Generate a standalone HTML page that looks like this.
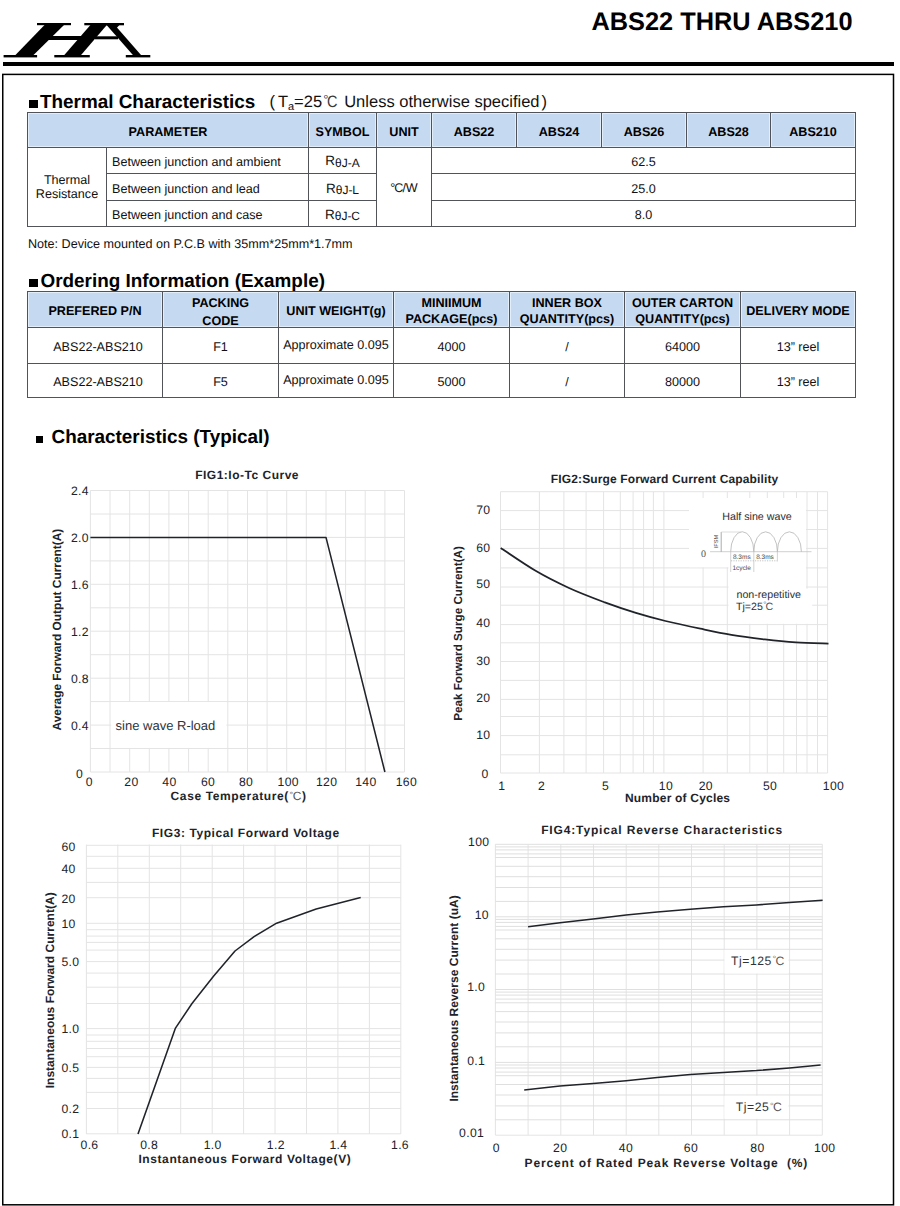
<!DOCTYPE html>
<html><head><meta charset="utf-8">
<style>
*{box-sizing:border-box;margin:0;padding:0}
html,body{width:900px;height:1206px;background:#fff;overflow:hidden}
body{position:relative;font-family:"Liberation Sans",sans-serif;color:#111;text-rendering:geometricPrecision}
.abs{position:absolute;white-space:nowrap}
#title{left:591.5px;top:8px;font-size:25.35px;font-weight:bold;line-height:28px;color:#000}
#bar{left:2.7px;top:62px;width:891px;height:4px;background:#000}
.h1{font-weight:bold;font-size:18.9px;line-height:22px;color:#000}
.sub{font-size:16.5px;line-height:20px;color:#111}
.gap{display:inline-block}
.dcw{display:inline-block;width:17.5px;white-space:nowrap}
.dg{font-size:13px;position:relative;top:-2.7px;left:1.2px;color:#444}
.dC{font-size:16.5px;margin-left:-0.5px;color:#3a3a3a;display:inline-block;transform:scaleX(0.88);transform-origin:left}
.subs{font-size:11px;position:relative;top:3px}
.sq{display:inline-block;background:#000}
.note{font-size:12.6px;line-height:16px}
.c{position:absolute;border:1px solid #50545a;display:flex;align-items:center;justify-content:center;text-align:center;font-size:12.6px;line-height:15px;white-space:nowrap;color:#111;padding-top:3px}
.c.h{background:#c5d9f1;font-weight:bold;color:#000;box-shadow:inset 0 0 0 1px #e2effa}
.c.l{justify-content:flex-start;padding-left:5px}
.c.h{padding-top:4.5px}
.c.ml{line-height:15.5px}
.c.tr{line-height:14px;padding-top:0}
.c.r2{padding-top:5.5px}
.c.r3{padding-top:4.5px}
.c.pk{line-height:17.5px;padding-top:6px}
.c.up{padding-top:0}
.c.sr{padding-left:6px}
.rr{font-size:13.5px;position:relative;top:-1px}
.th{font-size:12px;position:relative;top:0.5px}
.dc,.dc2,.dc3{letter-spacing:-1px}
svg text{font-family:"Liberation Sans",sans-serif;text-rendering:geometricPrecision}
</style></head><body>
<svg class="abs" style="left:0;top:0" width="160" height="70" viewBox="0 0 160 70"><g fill="#000">
<rect x="37" y="23" width="34" height="2.2"/>
<polygon points="45.5,24 65,24 32,56.5 14,56.5"/>
<rect x="3.6" y="55" width="33.5" height="2.4"/>
<rect x="45" y="36" width="40" height="4"/>
<rect x="84.3" y="23" width="39.7" height="2.3"/>
<polygon points="91.3,24 107.7,24 79.8,56.5 63,56.5"/>
<rect x="54.3" y="55" width="35.5" height="2.4"/>
<rect x="95" y="36.3" width="23" height="3"/>
<polygon points="105.7,24 113.9,24 142.3,56.5 134.2,56.5"/>
<polygon points="112,25 119.4,25 116.4,28.2"/>
<rect x="125.8" y="55" width="24.5" height="2.4"/>
</g></svg>
<div class="abs" id="title">ABS22 THRU ABS210</div>
<div class="abs" id="bar"></div>
<svg class="abs" style="left:0;top:0" width="900" height="1206"><rect x="2.75" y="74.4" width="890.75" height="1130.4" fill="none" stroke="#000" stroke-width="1.5"/></svg>
<div class="abs h1" style="left:28.8px;top:91.9px"><i class="sq" style="width:9.2px;height:8px;margin-right:2px"></i>Thermal Characteristics</div>
<div class="abs sub" style="left:269.5px;top:92px">(<span class="gap" style="width:2.9px"></span>T<span class="subs">a</span>=25<span class="dcw"><span class="dg">&deg;</span><span class="dC">C</span></span> Unless otherwise specified<span class="gap" style="width:2px"></span>)</div>
<div class="c h" style="left:27px;top:112px;width:282px;height:36px"><span>PARAMETER</span></div>
<div class="c h" style="left:308px;top:112px;width:69px;height:36px"><span>SYMBOL</span></div>
<div class="c h" style="left:376px;top:112px;width:56px;height:36px"><span>UNIT</span></div>
<div class="c h" style="left:431px;top:112px;width:86px;height:36px"><span>ABS22</span></div>
<div class="c h" style="left:516px;top:112px;width:86px;height:36px"><span>ABS24</span></div>
<div class="c h" style="left:601px;top:112px;width:86px;height:36px"><span>ABS26</span></div>
<div class="c h" style="left:686px;top:112px;width:85px;height:36px"><span>ABS28</span></div>
<div class="c h" style="left:770px;top:112px;width:86px;height:36px"><span>ABS210</span></div>
<div class="c tr" style="left:27px;top:147px;width:80px;height:80px"><span>Thermal<br>Resistance</span></div>
<div class="c l " style="left:106px;top:147px;width:203px;height:27px"><span>Between junction and ambient</span></div>
<div class="c " style="left:308px;top:147px;width:69px;height:27px"><span><span class="rr">R</span><span class="th">&theta;J-A</span></span></div>
<div class="c " style="left:431px;top:147px;width:425px;height:27px"><span>62.5</span></div>
<div class="c l r2" style="left:106px;top:173px;width:203px;height:28px"><span>Between junction and lead</span></div>
<div class="c r2" style="left:308px;top:173px;width:69px;height:28px"><span><span class="rr">R</span><span class="th">&theta;J-L</span></span></div>
<div class="c r2" style="left:431px;top:173px;width:425px;height:28px"><span>25.0</span></div>
<div class="c l r3" style="left:106px;top:200px;width:203px;height:27px"><span>Between junction and case</span></div>
<div class="c r3" style="left:308px;top:200px;width:69px;height:27px"><span><span class="rr">R</span><span class="th">&theta;J-C</span></span></div>
<div class="c r3" style="left:431px;top:200px;width:425px;height:27px"><span>8.0</span></div>
<div class="c " style="left:376px;top:147px;width:56px;height:80px"><span><span class="dc3">&deg;C</span>/W</span></div>
<div class="abs note" style="left:28px;top:236px">Note: Device mounted on P.C.B with 35mm*25mm*1.7mm</div>
<div class="abs h1" style="left:29.3px;top:270.7px"><i class="sq" style="width:8.6px;height:7.8px;margin-right:2.6px"></i>Ordering Information (Example)</div>
<div class="c h ml" style="left:27px;top:291px;width:136px;height:37px"><span>PREFERED P/N</span></div>
<div class="c h pk" style="left:162px;top:291px;width:117px;height:37px"><span>PACKING<br>CODE</span></div>
<div class="c h ml" style="left:278px;top:291px;width:116px;height:37px"><span>UNIT WEIGHT(g)</span></div>
<div class="c h ml" style="left:393px;top:291px;width:117px;height:37px"><span>MINIIMUM<br>PACKAGE(pcs)</span></div>
<div class="c h ml" style="left:509px;top:291px;width:116px;height:37px"><span>INNER BOX<br>QUANTITY(pcs)</span></div>
<div class="c h ml" style="left:624px;top:291px;width:117px;height:37px"><span>OUTER CARTON<br>QUANTITY(pcs)</span></div>
<div class="c h ml" style="left:740px;top:291px;width:116px;height:37px"><span>DELIVERY MODE</span></div>
<div class="c sr" style="left:27px;top:327px;width:136px;height:37px"><span>ABS22-ABS210</span></div>
<div class="c " style="left:162px;top:327px;width:117px;height:37px"><span>F1</span></div>
<div class="c up" style="left:278px;top:327px;width:116px;height:37px"><span>Approximate 0.095</span></div>
<div class="c " style="left:393px;top:327px;width:117px;height:37px"><span>4000</span></div>
<div class="c " style="left:509px;top:327px;width:116px;height:37px"><span>/</span></div>
<div class="c " style="left:624px;top:327px;width:117px;height:37px"><span>64000</span></div>
<div class="c " style="left:740px;top:327px;width:116px;height:37px"><span>13&rdquo; reel</span></div>
<div class="c sr" style="left:27px;top:363px;width:136px;height:35px"><span>ABS22-ABS210</span></div>
<div class="c " style="left:162px;top:363px;width:117px;height:35px"><span>F5</span></div>
<div class="c up" style="left:278px;top:363px;width:116px;height:35px"><span>Approximate 0.095</span></div>
<div class="c " style="left:393px;top:363px;width:117px;height:35px"><span>5000</span></div>
<div class="c " style="left:509px;top:363px;width:116px;height:35px"><span>/</span></div>
<div class="c " style="left:624px;top:363px;width:117px;height:35px"><span>80000</span></div>
<div class="c " style="left:740px;top:363px;width:116px;height:35px"><span>13&rdquo; reel</span></div>
<div class="abs h1" style="left:35.8px;top:427.3px"><i class="sq" style="width:7.7px;height:7.7px;margin-right:8px"></i>Characteristics (Typical)</div>
<svg class="abs" style="left:0;top:0" width="900" height="1206" viewBox="0 0 900 1206">
<line x1="90.4" y1="490.5" x2="90.4" y2="772.0" stroke="#e4e4e4" stroke-width="1"/>
<line x1="110.0" y1="490.5" x2="110.0" y2="772.0" stroke="#e4e4e4" stroke-width="1"/>
<line x1="129.7" y1="490.5" x2="129.7" y2="772.0" stroke="#e4e4e4" stroke-width="1"/>
<line x1="149.3" y1="490.5" x2="149.3" y2="772.0" stroke="#e4e4e4" stroke-width="1"/>
<line x1="168.9" y1="490.5" x2="168.9" y2="772.0" stroke="#e4e4e4" stroke-width="1"/>
<line x1="188.6" y1="490.5" x2="188.6" y2="772.0" stroke="#e4e4e4" stroke-width="1"/>
<line x1="208.2" y1="490.5" x2="208.2" y2="772.0" stroke="#e4e4e4" stroke-width="1"/>
<line x1="227.8" y1="490.5" x2="227.8" y2="772.0" stroke="#e4e4e4" stroke-width="1"/>
<line x1="247.5" y1="490.5" x2="247.5" y2="772.0" stroke="#e4e4e4" stroke-width="1"/>
<line x1="267.1" y1="490.5" x2="267.1" y2="772.0" stroke="#e4e4e4" stroke-width="1"/>
<line x1="286.7" y1="490.5" x2="286.7" y2="772.0" stroke="#e4e4e4" stroke-width="1"/>
<line x1="306.3" y1="490.5" x2="306.3" y2="772.0" stroke="#e4e4e4" stroke-width="1"/>
<line x1="326.0" y1="490.5" x2="326.0" y2="772.0" stroke="#e4e4e4" stroke-width="1"/>
<line x1="345.6" y1="490.5" x2="345.6" y2="772.0" stroke="#e4e4e4" stroke-width="1"/>
<line x1="365.2" y1="490.5" x2="365.2" y2="772.0" stroke="#e4e4e4" stroke-width="1"/>
<line x1="384.9" y1="490.5" x2="384.9" y2="772.0" stroke="#e4e4e4" stroke-width="1"/>
<line x1="404.5" y1="490.5" x2="404.5" y2="772.0" stroke="#e4e4e4" stroke-width="1"/>
<line x1="90.4" y1="490.5" x2="404.5" y2="490.5" stroke="#e4e4e4" stroke-width="1"/>
<line x1="90.4" y1="514.0" x2="404.5" y2="514.0" stroke="#e4e4e4" stroke-width="1"/>
<line x1="90.4" y1="537.4" x2="404.5" y2="537.4" stroke="#e4e4e4" stroke-width="1"/>
<line x1="90.4" y1="560.9" x2="404.5" y2="560.9" stroke="#e4e4e4" stroke-width="1"/>
<line x1="90.4" y1="584.3" x2="404.5" y2="584.3" stroke="#e4e4e4" stroke-width="1"/>
<line x1="90.4" y1="607.8" x2="404.5" y2="607.8" stroke="#e4e4e4" stroke-width="1"/>
<line x1="90.4" y1="631.2" x2="404.5" y2="631.2" stroke="#e4e4e4" stroke-width="1"/>
<line x1="90.4" y1="654.7" x2="404.5" y2="654.7" stroke="#e4e4e4" stroke-width="1"/>
<line x1="90.4" y1="678.2" x2="404.5" y2="678.2" stroke="#e4e4e4" stroke-width="1"/>
<line x1="90.4" y1="701.6" x2="404.5" y2="701.6" stroke="#e4e4e4" stroke-width="1"/>
<line x1="90.4" y1="725.1" x2="404.5" y2="725.1" stroke="#e4e4e4" stroke-width="1"/>
<line x1="90.4" y1="748.5" x2="404.5" y2="748.5" stroke="#e4e4e4" stroke-width="1"/>
<line x1="90.4" y1="772.0" x2="404.5" y2="772.0" stroke="#e4e4e4" stroke-width="1"/>
<text x="247.1" y="479.3" font-size="12" text-anchor="middle" font-weight="bold" letter-spacing="0.5" fill="#20242a">FIG1:Io-Tc Curve</text>
<text x="88.9" y="495.4" font-size="12.2" text-anchor="end" letter-spacing="0.35" fill="#20242a">2.4</text>
<text x="88.9" y="542.3" font-size="12.2" text-anchor="end" letter-spacing="0.35" fill="#20242a">2.0</text>
<text x="88.9" y="589.2" font-size="12.2" text-anchor="end" letter-spacing="0.35" fill="#20242a">1.6</text>
<text x="88.9" y="636.1" font-size="12.2" text-anchor="end" letter-spacing="0.35" fill="#20242a">1.2</text>
<text x="88.9" y="683.0" font-size="12.2" text-anchor="end" letter-spacing="0.35" fill="#20242a">0.8</text>
<text x="88.9" y="730.0" font-size="12.2" text-anchor="end" letter-spacing="0.35" fill="#20242a">0.4</text>
<text x="83.1" y="778.0" font-size="12.2" text-anchor="end" letter-spacing="0.35" fill="#20242a">0</text>
<text x="89.4" y="785.8" font-size="12.2" text-anchor="middle" letter-spacing="0.35" fill="#20242a">0</text>
<text x="131.5" y="785.8" font-size="12.2" text-anchor="middle" letter-spacing="0.35" fill="#20242a">20</text>
<text x="169.5" y="785.8" font-size="12.2" text-anchor="middle" letter-spacing="0.35" fill="#20242a">40</text>
<text x="208.1" y="785.8" font-size="12.2" text-anchor="middle" letter-spacing="0.35" fill="#20242a">60</text>
<text x="246.1" y="785.8" font-size="12.2" text-anchor="middle" letter-spacing="0.35" fill="#20242a">80</text>
<text x="288.2" y="785.8" font-size="12.2" text-anchor="middle" letter-spacing="0.35" fill="#20242a">100</text>
<text x="326.6" y="785.8" font-size="12.2" text-anchor="middle" letter-spacing="0.35" fill="#20242a">120</text>
<text x="365.9" y="785.8" font-size="12.2" text-anchor="middle" letter-spacing="0.35" fill="#20242a">140</text>
<text x="406.4" y="785.8" font-size="12.2" text-anchor="middle" letter-spacing="0.35" fill="#20242a">160</text>
<text transform="translate(60.7 629.6) rotate(-90)" font-size="11.9" text-anchor="middle" font-weight="bold" fill="#20242a">Average Forward Output Current(A)</text>
<text x="238.6" y="800.3" font-size="12" text-anchor="middle" font-weight="bold" letter-spacing="0.62" fill="#20242a">Case Temperature(<tspan font-size="0.75em" dy="-0.27em" dx="0.5" font-weight="normal" fill="#666">&deg;</tspan><tspan dy="0.2025em" dx="-1" font-weight="normal" fill="#555">C</tspan>)</text>
<rect x="111.2" y="702" width="115.2" height="45.9" fill="#fff"/>
<text x="115.6" y="729.7" font-size="13" text-anchor="start" fill="#30343a">sine wave R-load</text>
<polyline points="90.4,537.4 326.0,537.4 384.9,772.0" fill="none" stroke="#20242a" stroke-width="1.55" stroke-linejoin="round"/>
<line x1="500.5" y1="491.7" x2="500.5" y2="773.0" stroke="#e4e4e4" stroke-width="1"/>
<line x1="539.4" y1="491.7" x2="539.4" y2="773.0" stroke="#e4e4e4" stroke-width="1"/>
<line x1="563.9" y1="491.7" x2="563.9" y2="773.0" stroke="#e4e4e4" stroke-width="1"/>
<line x1="586.1" y1="491.7" x2="586.1" y2="773.0" stroke="#e4e4e4" stroke-width="1"/>
<line x1="603.6" y1="491.7" x2="603.6" y2="773.0" stroke="#e4e4e4" stroke-width="1"/>
<line x1="620.3" y1="491.7" x2="620.3" y2="773.0" stroke="#e4e4e4" stroke-width="1"/>
<line x1="633.1" y1="491.7" x2="633.1" y2="773.0" stroke="#e4e4e4" stroke-width="1"/>
<line x1="643.6" y1="491.7" x2="643.6" y2="773.0" stroke="#e4e4e4" stroke-width="1"/>
<line x1="653.4" y1="491.7" x2="653.4" y2="773.0" stroke="#e4e4e4" stroke-width="1"/>
<line x1="663.9" y1="491.7" x2="663.9" y2="773.0" stroke="#e4e4e4" stroke-width="1"/>
<line x1="703.1" y1="491.7" x2="703.1" y2="773.0" stroke="#e4e4e4" stroke-width="1"/>
<line x1="727.3" y1="491.7" x2="727.3" y2="773.0" stroke="#e4e4e4" stroke-width="1"/>
<line x1="749.8" y1="491.7" x2="749.8" y2="773.0" stroke="#e4e4e4" stroke-width="1"/>
<line x1="767.3" y1="491.7" x2="767.3" y2="773.0" stroke="#e4e4e4" stroke-width="1"/>
<line x1="783.7" y1="491.7" x2="783.7" y2="773.0" stroke="#e4e4e4" stroke-width="1"/>
<line x1="796.5" y1="491.7" x2="796.5" y2="773.0" stroke="#e4e4e4" stroke-width="1"/>
<line x1="807.0" y1="491.7" x2="807.0" y2="773.0" stroke="#e4e4e4" stroke-width="1"/>
<line x1="817.5" y1="491.7" x2="817.5" y2="773.0" stroke="#e4e4e4" stroke-width="1"/>
<line x1="827.6" y1="491.7" x2="827.6" y2="773.0" stroke="#e4e4e4" stroke-width="1"/>
<line x1="500.3" y1="491.7" x2="827.6" y2="491.7" stroke="#e4e4e4" stroke-width="1"/>
<line x1="500.3" y1="510.6" x2="827.6" y2="510.6" stroke="#e4e4e4" stroke-width="1"/>
<line x1="500.3" y1="529.5" x2="827.6" y2="529.5" stroke="#e4e4e4" stroke-width="1"/>
<line x1="500.3" y1="548.4" x2="827.6" y2="548.4" stroke="#e4e4e4" stroke-width="1"/>
<line x1="500.3" y1="567.9" x2="827.6" y2="567.9" stroke="#e4e4e4" stroke-width="1"/>
<line x1="500.3" y1="587.0" x2="827.6" y2="587.0" stroke="#e4e4e4" stroke-width="1"/>
<line x1="500.3" y1="605.2" x2="827.6" y2="605.2" stroke="#e4e4e4" stroke-width="1"/>
<line x1="500.3" y1="624.6" x2="827.6" y2="624.6" stroke="#e4e4e4" stroke-width="1"/>
<line x1="500.3" y1="642.8" x2="827.6" y2="642.8" stroke="#e4e4e4" stroke-width="1"/>
<line x1="500.3" y1="661.5" x2="827.6" y2="661.5" stroke="#e4e4e4" stroke-width="1"/>
<line x1="500.3" y1="680.4" x2="827.6" y2="680.4" stroke="#e4e4e4" stroke-width="1"/>
<line x1="500.3" y1="699.4" x2="827.6" y2="699.4" stroke="#e4e4e4" stroke-width="1"/>
<line x1="500.3" y1="716.5" x2="827.6" y2="716.5" stroke="#e4e4e4" stroke-width="1"/>
<line x1="500.3" y1="735.6" x2="827.6" y2="735.6" stroke="#e4e4e4" stroke-width="1"/>
<line x1="500.3" y1="754.8" x2="827.6" y2="754.8" stroke="#e4e4e4" stroke-width="1"/>
<line x1="500.3" y1="773.0" x2="827.6" y2="773.0" stroke="#e4e4e4" stroke-width="1"/>
<rect x="689" y="498" width="117" height="69.2" fill="#fff"/>
<rect x="728.5" y="567" width="77.5" height="22.5" fill="#fff"/>
<rect x="728.5" y="588.7" width="83.7" height="35.1" fill="#fff"/>
<text x="664.6" y="482.5" font-size="12" text-anchor="middle" font-weight="bold" letter-spacing="0.13" fill="#20242a">FIG2:Surge Forward Current Capability</text>
<text x="490.4" y="513.5" font-size="12.2" text-anchor="end" letter-spacing="0.35" fill="#20242a">70</text>
<text x="490.4" y="552.1" font-size="12.2" text-anchor="end" letter-spacing="0.35" fill="#20242a">60</text>
<text x="490.4" y="588.3" font-size="12.2" text-anchor="end" letter-spacing="0.35" fill="#20242a">50</text>
<text x="490.4" y="626.7" font-size="12.2" text-anchor="end" letter-spacing="0.35" fill="#20242a">40</text>
<text x="490.4" y="664.6" font-size="12.2" text-anchor="end" letter-spacing="0.35" fill="#20242a">30</text>
<text x="490.4" y="702.3" font-size="12.2" text-anchor="end" letter-spacing="0.35" fill="#20242a">20</text>
<text x="490.4" y="739.3" font-size="12.2" text-anchor="end" letter-spacing="0.35" fill="#20242a">10</text>
<text x="488.4" y="777.8" font-size="12.2" text-anchor="end" fill="#20242a">0</text>
<text x="501.9" y="790.4" font-size="12.2" text-anchor="middle" letter-spacing="0.35" fill="#20242a">1</text>
<text x="541.6" y="790.4" font-size="12.2" text-anchor="middle" letter-spacing="0.35" fill="#20242a">2</text>
<text x="605.5" y="790.4" font-size="12.2" text-anchor="middle" letter-spacing="0.35" fill="#20242a">5</text>
<text x="665.9" y="790.4" font-size="12.2" text-anchor="middle" letter-spacing="0.35" fill="#20242a">10</text>
<text x="705.8" y="790.4" font-size="12.2" text-anchor="middle" letter-spacing="0.35" fill="#20242a">20</text>
<text x="770.1" y="790.4" font-size="12.2" text-anchor="middle" letter-spacing="0.35" fill="#20242a">50</text>
<text x="833.5" y="790.4" font-size="12.2" text-anchor="middle" letter-spacing="0.35" fill="#20242a">100</text>
<text x="677.6" y="802.1" font-size="12" text-anchor="middle" font-weight="bold" letter-spacing="0.2" fill="#20242a">Number of Cycles</text>
<text transform="translate(461.6 633.5) rotate(-90)" font-size="11.7" text-anchor="middle" font-weight="bold" fill="#20242a">Peak Forward Surge Current(A)</text>
<path d="M500.7,548.0 C506.5,551.8 524.2,564.1 535.6,570.8 C547.0,577.5 557.5,582.7 569.0,588.0 C580.5,593.3 593.6,598.2 604.8,602.4 C615.9,606.5 625.8,609.8 635.9,612.9 C646.0,616.0 654.8,618.4 665.5,621.0 C676.2,623.6 689.4,626.4 700.4,628.7 C711.4,631.0 720.6,633.0 731.4,634.8 C742.1,636.6 754.1,638.1 764.9,639.4 C775.7,640.7 785.4,641.7 796.0,642.4 C806.6,643.1 823.1,643.4 828.5,643.6" fill="none" stroke="#20242a" stroke-width="1.8"/>
<text x="757.0" y="519.6" font-size="10.7" text-anchor="middle" fill="#2a2e34">Half sine wave</text>
<text x="703.6" y="556.6" font-size="10" text-anchor="middle" style="font-family:'Liberation Serif',serif" fill="#555">0</text>
<line x1="710.0" y1="551.7" x2="811.5" y2="551.7" stroke="#c4c4c4" stroke-width="0.8"/>
<path d="M730.7,551.7 A11.5,19.9 0 0 1 753.8,551.7" fill="none" stroke="#b4b4b4" stroke-width="0.8"/>
<path d="M753.8,551.7 A11.8,19.9 0 0 1 777.4,551.7" fill="none" stroke="#b4b4b4" stroke-width="0.8"/>
<path d="M777.4,551.7 A12.0,19.9 0 0 1 801.4,551.7" fill="none" stroke="#b4b4b4" stroke-width="0.8"/>
<line x1="721.2" y1="532.0" x2="721.2" y2="551.7" stroke="#888" stroke-width="0.7"/>
<line x1="721.2" y1="532.0" x2="741.0" y2="532.0" stroke="#cfcfcf" stroke-width="0.7"/>
<text transform="translate(718.2 541.6) rotate(-90)" font-size="5.6" text-anchor="middle" fill="#444">IFSM</text>
<line x1="730.7" y1="551.7" x2="730.7" y2="572.0" stroke="#c8c8c8" stroke-width="0.8"/>
<line x1="753.8" y1="551.7" x2="753.8" y2="572.0" stroke="#c8c8c8" stroke-width="0.8"/>
<line x1="777.4" y1="551.7" x2="777.4" y2="561.5" stroke="#c8c8c8" stroke-width="0.8"/>
<line x1="731" y1="560.8" x2="777" y2="560.8" stroke="#aaa" stroke-width="0.7" stroke-dasharray="1.2 1.2"/>
<text x="741.8" y="558.9" font-size="6.5" text-anchor="middle" fill="#444">8.3ms</text>
<text x="765.0" y="558.9" font-size="6.5" text-anchor="middle" fill="#444">8.3ms</text>
<text x="741.7" y="570.0" font-size="6.5" text-anchor="middle" fill="#444">1cycle</text>
<text x="736.5" y="598.4" font-size="10.65" text-anchor="start" fill="#2a2e34">non-repetitive</text>
<text x="736.0" y="609.6" font-size="10.6" text-anchor="start" fill="#2a2e34">Tj=25<tspan font-size="0.75em" dy="-0.27em" dx="0.5" font-weight="normal" fill="#666">&deg;</tspan><tspan dy="0.2025em" dx="-1" font-weight="normal" fill="#555">C</tspan></text>
<line x1="86.4" y1="844.6" x2="86.4" y2="1134.0" stroke="#e4e4e4" stroke-width="1"/>
<line x1="117.8" y1="844.6" x2="117.8" y2="1134.0" stroke="#e4e4e4" stroke-width="1"/>
<line x1="149.3" y1="844.6" x2="149.3" y2="1134.0" stroke="#e4e4e4" stroke-width="1"/>
<line x1="180.7" y1="844.6" x2="180.7" y2="1134.0" stroke="#e4e4e4" stroke-width="1"/>
<line x1="212.2" y1="844.6" x2="212.2" y2="1134.0" stroke="#e4e4e4" stroke-width="1"/>
<line x1="243.6" y1="844.6" x2="243.6" y2="1134.0" stroke="#e4e4e4" stroke-width="1"/>
<line x1="275.0" y1="844.6" x2="275.0" y2="1134.0" stroke="#e4e4e4" stroke-width="1"/>
<line x1="306.5" y1="844.6" x2="306.5" y2="1134.0" stroke="#e4e4e4" stroke-width="1"/>
<line x1="337.9" y1="844.6" x2="337.9" y2="1134.0" stroke="#e4e4e4" stroke-width="1"/>
<line x1="369.4" y1="844.6" x2="369.4" y2="1134.0" stroke="#e4e4e4" stroke-width="1"/>
<line x1="400.8" y1="844.6" x2="400.8" y2="1134.0" stroke="#e4e4e4" stroke-width="1"/>
<line x1="86.4" y1="845.3" x2="400.8" y2="845.3" stroke="#e4e4e4" stroke-width="1"/>
<line x1="86.4" y1="856.3" x2="400.8" y2="856.3" stroke="#e4e4e4" stroke-width="1"/>
<line x1="86.4" y1="868.3" x2="400.8" y2="868.3" stroke="#e4e4e4" stroke-width="1"/>
<line x1="86.4" y1="882.4" x2="400.8" y2="882.4" stroke="#e4e4e4" stroke-width="1"/>
<line x1="86.4" y1="897.7" x2="400.8" y2="897.7" stroke="#e4e4e4" stroke-width="1"/>
<line x1="86.4" y1="923.3" x2="400.8" y2="923.3" stroke="#e4e4e4" stroke-width="1"/>
<line x1="86.4" y1="929.7" x2="400.8" y2="929.7" stroke="#e4e4e4" stroke-width="1"/>
<line x1="86.4" y1="936.1" x2="400.8" y2="936.1" stroke="#e4e4e4" stroke-width="1"/>
<line x1="86.4" y1="942.4" x2="400.8" y2="942.4" stroke="#e4e4e4" stroke-width="1"/>
<line x1="86.4" y1="950.1" x2="400.8" y2="950.1" stroke="#e4e4e4" stroke-width="1"/>
<line x1="86.4" y1="961.6" x2="400.8" y2="961.6" stroke="#e4e4e4" stroke-width="1"/>
<line x1="86.4" y1="973.1" x2="400.8" y2="973.1" stroke="#e4e4e4" stroke-width="1"/>
<line x1="86.4" y1="987.2" x2="400.8" y2="987.2" stroke="#e4e4e4" stroke-width="1"/>
<line x1="86.4" y1="1003.5" x2="400.8" y2="1003.5" stroke="#e4e4e4" stroke-width="1"/>
<line x1="86.4" y1="1028.6" x2="400.8" y2="1028.6" stroke="#e4e4e4" stroke-width="1"/>
<line x1="86.4" y1="1035.0" x2="400.8" y2="1035.0" stroke="#e4e4e4" stroke-width="1"/>
<line x1="86.4" y1="1041.3" x2="400.8" y2="1041.3" stroke="#e4e4e4" stroke-width="1"/>
<line x1="86.4" y1="1048.5" x2="400.8" y2="1048.5" stroke="#e4e4e4" stroke-width="1"/>
<line x1="86.4" y1="1056.7" x2="400.8" y2="1056.7" stroke="#e4e4e4" stroke-width="1"/>
<line x1="86.4" y1="1067.4" x2="400.8" y2="1067.4" stroke="#e4e4e4" stroke-width="1"/>
<line x1="86.4" y1="1078.4" x2="400.8" y2="1078.4" stroke="#e4e4e4" stroke-width="1"/>
<line x1="86.4" y1="1092.4" x2="400.8" y2="1092.4" stroke="#e4e4e4" stroke-width="1"/>
<line x1="86.4" y1="1108.5" x2="400.8" y2="1108.5" stroke="#e4e4e4" stroke-width="1"/>
<line x1="86.4" y1="1133.8" x2="400.8" y2="1133.8" stroke="#e4e4e4" stroke-width="1"/>
<text x="245.8" y="837.3" font-size="12" text-anchor="middle" font-weight="bold" letter-spacing="0.58" fill="#20242a">FIG3: Typical Forward Voltage</text>
<text x="61.4" y="851.2" font-size="12.2" text-anchor="start" letter-spacing="0.35" fill="#20242a">60</text>
<text x="61.4" y="872.7" font-size="12.2" text-anchor="start" letter-spacing="0.35" fill="#20242a">40</text>
<text x="61.4" y="902.8" font-size="12.2" text-anchor="start" letter-spacing="0.35" fill="#20242a">20</text>
<text x="61.4" y="928.1" font-size="12.2" text-anchor="start" letter-spacing="0.35" fill="#20242a">10</text>
<text x="61.4" y="966.4" font-size="12.2" text-anchor="start" letter-spacing="0.35" fill="#20242a">5.0</text>
<text x="61.4" y="1033.2" font-size="12.2" text-anchor="start" letter-spacing="0.35" fill="#20242a">1.0</text>
<text x="61.4" y="1072.4" font-size="12.2" text-anchor="start" letter-spacing="0.35" fill="#20242a">0.5</text>
<text x="61.4" y="1113.0" font-size="12.2" text-anchor="start" letter-spacing="0.35" fill="#20242a">0.2</text>
<text x="61.4" y="1138.4" font-size="12.2" text-anchor="start" letter-spacing="0.35" fill="#20242a">0.1</text>
<text x="89.5" y="1149.2" font-size="12.2" text-anchor="middle" letter-spacing="0.35" fill="#20242a">0.6</text>
<text x="149.2" y="1149.2" font-size="12.2" text-anchor="middle" letter-spacing="0.35" fill="#20242a">0.8</text>
<text x="212.7" y="1149.2" font-size="12.2" text-anchor="middle" letter-spacing="0.35" fill="#20242a">1.0</text>
<text x="275.8" y="1149.2" font-size="12.2" text-anchor="middle" letter-spacing="0.35" fill="#20242a">1.2</text>
<text x="338.4" y="1149.2" font-size="12.2" text-anchor="middle" letter-spacing="0.35" fill="#20242a">1.4</text>
<text x="400.0" y="1149.2" font-size="12.2" text-anchor="middle" letter-spacing="0.35" fill="#20242a">1.6</text>
<text x="244.9" y="1163.1" font-size="12" text-anchor="middle" font-weight="bold" letter-spacing="0.6" fill="#20242a">Instantaneous Forward Voltage(V)</text>
<text transform="translate(54.4 990.3) rotate(-90)" font-size="12" text-anchor="middle" font-weight="bold" letter-spacing="0.02" fill="#20242a">Instantaneous Forward Current(A)</text>
<polyline points="138.0,1134.0 175.3,1028.4 192.0,1003.5 213.5,976.3 235.0,951.0 254.1,936.6 276.6,923.2 316.2,908.9 360.7,897.4" fill="none" stroke="#20242a" stroke-width="1.55" stroke-linejoin="round"/>
<line x1="495.4" y1="844.3" x2="495.4" y2="1135.2" stroke="#e4e4e4" stroke-width="1"/>
<line x1="528.1" y1="844.3" x2="528.1" y2="1135.2" stroke="#e4e4e4" stroke-width="1"/>
<line x1="560.8" y1="844.3" x2="560.8" y2="1135.2" stroke="#e4e4e4" stroke-width="1"/>
<line x1="593.5" y1="844.3" x2="593.5" y2="1135.2" stroke="#e4e4e4" stroke-width="1"/>
<line x1="626.2" y1="844.3" x2="626.2" y2="1135.2" stroke="#e4e4e4" stroke-width="1"/>
<line x1="658.8" y1="844.3" x2="658.8" y2="1135.2" stroke="#e4e4e4" stroke-width="1"/>
<line x1="691.5" y1="844.3" x2="691.5" y2="1135.2" stroke="#e4e4e4" stroke-width="1"/>
<line x1="724.2" y1="844.3" x2="724.2" y2="1135.2" stroke="#e4e4e4" stroke-width="1"/>
<line x1="756.9" y1="844.3" x2="756.9" y2="1135.2" stroke="#e4e4e4" stroke-width="1"/>
<line x1="789.6" y1="844.3" x2="789.6" y2="1135.2" stroke="#e4e4e4" stroke-width="1"/>
<line x1="822.3" y1="844.3" x2="822.3" y2="1135.2" stroke="#e4e4e4" stroke-width="1"/>
<line x1="495.4" y1="844.3" x2="822.3" y2="844.3" stroke="#dfdfdf" stroke-width="1"/>
<line x1="495.4" y1="846.9" x2="822.3" y2="846.9" stroke="#dfdfdf" stroke-width="1"/>
<line x1="495.4" y1="849.9" x2="822.3" y2="849.9" stroke="#dfdfdf" stroke-width="1"/>
<line x1="495.4" y1="853.9" x2="822.3" y2="853.9" stroke="#dfdfdf" stroke-width="1"/>
<line x1="495.4" y1="857.5" x2="822.3" y2="857.5" stroke="#dfdfdf" stroke-width="1"/>
<line x1="495.4" y1="866.3" x2="822.3" y2="866.3" stroke="#dfdfdf" stroke-width="1"/>
<line x1="495.4" y1="876.7" x2="822.3" y2="876.7" stroke="#dfdfdf" stroke-width="1"/>
<line x1="495.4" y1="887.5" x2="822.3" y2="887.5" stroke="#dfdfdf" stroke-width="1"/>
<line x1="495.4" y1="901.4" x2="822.3" y2="901.4" stroke="#dfdfdf" stroke-width="1"/>
<line x1="495.4" y1="916.8" x2="822.3" y2="916.8" stroke="#dfdfdf" stroke-width="1"/>
<line x1="495.4" y1="919.4" x2="822.3" y2="919.4" stroke="#dfdfdf" stroke-width="1"/>
<line x1="495.4" y1="922.4" x2="822.3" y2="922.4" stroke="#dfdfdf" stroke-width="1"/>
<line x1="495.4" y1="926.4" x2="822.3" y2="926.4" stroke="#dfdfdf" stroke-width="1"/>
<line x1="495.4" y1="930.0" x2="822.3" y2="930.0" stroke="#dfdfdf" stroke-width="1"/>
<line x1="495.4" y1="938.8" x2="822.3" y2="938.8" stroke="#dfdfdf" stroke-width="1"/>
<line x1="495.4" y1="949.3" x2="822.3" y2="949.3" stroke="#dfdfdf" stroke-width="1"/>
<line x1="495.4" y1="960.1" x2="822.3" y2="960.1" stroke="#dfdfdf" stroke-width="1"/>
<line x1="495.4" y1="974.0" x2="822.3" y2="974.0" stroke="#dfdfdf" stroke-width="1"/>
<line x1="495.4" y1="989.5" x2="822.3" y2="989.5" stroke="#dfdfdf" stroke-width="1"/>
<line x1="495.4" y1="992.1" x2="822.3" y2="992.1" stroke="#dfdfdf" stroke-width="1"/>
<line x1="495.4" y1="995.1" x2="822.3" y2="995.1" stroke="#dfdfdf" stroke-width="1"/>
<line x1="495.4" y1="999.1" x2="822.3" y2="999.1" stroke="#dfdfdf" stroke-width="1"/>
<line x1="495.4" y1="1002.8" x2="822.3" y2="1002.8" stroke="#dfdfdf" stroke-width="1"/>
<line x1="495.4" y1="1011.6" x2="822.3" y2="1011.6" stroke="#dfdfdf" stroke-width="1"/>
<line x1="495.4" y1="1022.0" x2="822.3" y2="1022.0" stroke="#dfdfdf" stroke-width="1"/>
<line x1="495.4" y1="1032.9" x2="822.3" y2="1032.9" stroke="#dfdfdf" stroke-width="1"/>
<line x1="495.4" y1="1046.8" x2="822.3" y2="1046.8" stroke="#dfdfdf" stroke-width="1"/>
<line x1="495.4" y1="1062.4" x2="822.3" y2="1062.4" stroke="#dfdfdf" stroke-width="1"/>
<line x1="495.4" y1="1065.0" x2="822.3" y2="1065.0" stroke="#dfdfdf" stroke-width="1"/>
<line x1="495.4" y1="1068.0" x2="822.3" y2="1068.0" stroke="#dfdfdf" stroke-width="1"/>
<line x1="495.4" y1="1072.1" x2="822.3" y2="1072.1" stroke="#dfdfdf" stroke-width="1"/>
<line x1="495.4" y1="1075.7" x2="822.3" y2="1075.7" stroke="#dfdfdf" stroke-width="1"/>
<line x1="495.4" y1="1084.5" x2="822.3" y2="1084.5" stroke="#dfdfdf" stroke-width="1"/>
<line x1="495.4" y1="1095.0" x2="822.3" y2="1095.0" stroke="#dfdfdf" stroke-width="1"/>
<line x1="495.4" y1="1105.9" x2="822.3" y2="1105.9" stroke="#dfdfdf" stroke-width="1"/>
<line x1="495.4" y1="1119.8" x2="822.3" y2="1119.8" stroke="#dfdfdf" stroke-width="1"/>
<rect x="724.4" y="949.9" width="64.1" height="23.6" fill="#fff"/>
<rect x="724.4" y="1095.8" width="64.1" height="23" fill="#fff"/>
<line x1="495.4" y1="1135.2" x2="822.3" y2="1135.2" stroke="#e4e4e4" stroke-width="1"/>
<text x="662.1" y="833.9" font-size="12" text-anchor="middle" font-weight="bold" letter-spacing="0.85" fill="#20242a">FIG4:Typical Reverse Characteristics</text>
<text x="489.4" y="845.9" font-size="12.2" text-anchor="end" letter-spacing="0.35" fill="#20242a">100</text>
<text x="488.9" y="918.7" font-size="12.2" text-anchor="end" letter-spacing="0.35" fill="#20242a">10</text>
<text x="485.2" y="991.3" font-size="12.2" text-anchor="end" letter-spacing="0.35" fill="#20242a">1.0</text>
<text x="485.2" y="1064.7" font-size="12.2" text-anchor="end" letter-spacing="0.35" fill="#20242a">0.1</text>
<text x="484.2" y="1137.1" font-size="12.2" text-anchor="end" letter-spacing="0.35" fill="#20242a">0.01</text>
<text x="496.2" y="1152.2" font-size="12.2" text-anchor="middle" letter-spacing="0.35" fill="#20242a">0</text>
<text x="560.2" y="1152.2" font-size="12.2" text-anchor="middle" letter-spacing="0.35" fill="#20242a">20</text>
<text x="625.9" y="1152.2" font-size="12.2" text-anchor="middle" letter-spacing="0.35" fill="#20242a">40</text>
<text x="690.9" y="1152.2" font-size="12.2" text-anchor="middle" letter-spacing="0.35" fill="#20242a">60</text>
<text x="757.5" y="1152.2" font-size="12.2" text-anchor="middle" letter-spacing="0.35" fill="#20242a">80</text>
<text x="824.7" y="1152.2" font-size="12.2" text-anchor="middle" letter-spacing="0.35" fill="#20242a">100</text>
<text x="524.6" y="1166.9" font-size="12" text-anchor="start" font-weight="bold" letter-spacing="0.85" fill="#20242a" xml:space="preserve">Percent of Rated Peak Reverse Voltage&#160;&#160;(%)</text>
<text transform="translate(457.7 998.4) rotate(-90)" font-size="12" text-anchor="middle" font-weight="bold" letter-spacing="0.03" fill="#20242a">Instantaneous Reverse Current (uA)</text>
<polyline points="528.1,926.7 560.0,922.8 593.1,918.9 626.1,915.0 657.2,911.9 690.3,909.2 723.4,906.8 756.4,904.9 789.5,902.6 822.6,900.2" fill="none" stroke="#20242a" stroke-width="1.55" stroke-linejoin="round"/>
<polyline points="524.2,1090.0 560.0,1086.1 593.1,1083.4 626.1,1080.7 657.2,1077.6 690.3,1074.5 723.4,1072.5 756.4,1070.6 789.5,1067.9 820.6,1065.1" fill="none" stroke="#20242a" stroke-width="1.55" stroke-linejoin="round"/>
<text x="731.0" y="964.9" font-size="12.2" text-anchor="start" letter-spacing="0.55" fill="#30343a">Tj=125<tspan font-size="0.75em" dy="-0.27em" dx="0.5" font-weight="normal" fill="#666">&deg;</tspan><tspan dy="0.2025em" dx="-1" font-weight="normal" fill="#555">C</tspan></text>
<text x="735.8" y="1111.4" font-size="12.2" text-anchor="start" letter-spacing="0.55" fill="#30343a">Tj=25<tspan font-size="0.75em" dy="-0.27em" dx="0.5" font-weight="normal" fill="#666">&deg;</tspan><tspan dy="0.2025em" dx="-1" font-weight="normal" fill="#555">C</tspan></text>
</svg>
</body></html>
